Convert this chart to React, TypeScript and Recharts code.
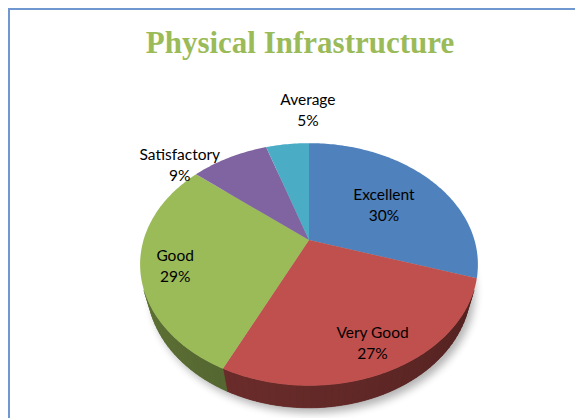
import { Pie, PieChart } from "recharts"

// values
const categories = ["Excellent", "Very Good", "Good", "Satisfactory", "Average"]
const shares = [30, 27, 29, 9, 5]

const colors = ["#4F81BD", "#C0504D", "#9BBB59", "#8064A2", "#4BACC6"]

// where each label sits: fraction of the radius along the mid angle, then a small nudge (px)
const labelRadius = [0.6, 0.82, 0.8, 1, 1]
const labelNudge = [
  [0, 4],
  [0, 0],
  [0, 5],
  [-49.5, 8],
  [20.5, -33.5],
]

const data = categories.map((name, i) => ({ name, value: shares[i] }))

// fake 3d: the disk is seen from above, a bit tilted, with some perspective
const TILT = (44.7 * Math.PI) / 180
const DIST = 3.53
const FOCAL = 584
const THICK = 0.21

const W = 573
const H = 408

function project(cx: number, cy: number, r: number, deg: number, h: number) {
  const a = (deg * Math.PI) / 180
  const x = r * Math.cos(a)
  const z = r * Math.sin(a)
  const w = DIST - h * Math.sin(TILT) + z * Math.cos(TILT)
  const up = h * Math.cos(TILT) + z * Math.sin(TILT)
  return [cx + (FOCAL * x) / w, cy - (FOCAL * up) / w]
}

function arc(cx: number, cy: number, from: number, to: number, h: number) {
  const n = Math.max(2, Math.ceil(Math.abs(to - from)))
  const pts: number[][] = []
  for (let k = 0; k <= n; k++) pts.push(project(cx, cy, 1, from + ((to - from) * k) / n, h))
  return pts
}

const toPath = (pts: number[][]) =>
  "M" + pts.map((p) => p[0].toFixed(2) + "," + p[1].toFixed(2)).join("L") + "Z"

function shade(hex: string, k: number) {
  const n = parseInt(hex.slice(1), 16)
  const r = Math.round(((n >> 16) & 255) * k)
  const g = Math.round(((n >> 8) & 255) * k)
  const b = Math.round((n & 255) * k)
  return `rgb(${r},${g},${b})`
}

// the side is only visible on the front, where it faces the camera
const SIDE_LIMIT = (Math.asin(1 / (DIST * Math.cos(TILT))) * 180) / Math.PI

const renderWall = (p: any) => {
  const { cx, cy, startAngle, endAngle, index } = p
  const hi = Math.min(startAngle, -SIDE_LIMIT)
  const lo = Math.max(endAngle, -180 + SIDE_LIMIT)
  const color = colors[index]
  const parts = []
  if (hi > lo) {
    const top = arc(cx, cy, hi, lo, 0)
    const bottom = arc(cx, cy, lo, hi, -THICK)
    parts.push(<path key="base" d={toPath([...top, ...bottom])} fill={shade(color, 0.5)} />)
    const step = 2
    for (let a = hi; a > lo; a -= step) {
      const b = Math.max(lo, a - step)
      const m = (a + b) / 2
      const k = 0.4 + 0.24 * (-m / 180)
      const c = shade(color, k)
      const quad = [project(cx, cy, 1, a, 0), project(cx, cy, 1, b, 0), project(cx, cy, 1, b, -THICK), project(cx, cy, 1, a, -THICK)]
      parts.push(<path key={a} d={toPath(quad)} fill={c} stroke={c} strokeWidth={0.6} />)
    }
  }
  return (
    <g key={`wall-${index}`}>
      {index === 0 && (
        <g>
          <defs>
            <filter id="pieShadow" x="-20%" y="-20%" width="140%" height="140%">
              <feGaussianBlur stdDeviation="4" />
            </filter>
          </defs>
          <path
            d={toPath(arc(cx + 4, cy + 5, 90, -270, -THICK))}
            fill="#000"
            opacity={0.3}
            filter="url(#pieShadow)"
          />
        </g>
      )}
      {parts}
    </g>
  )
}

const renderFace = (p: any) => {
  const { cx, cy, startAngle, endAngle, index } = p
  const pts = [project(cx, cy, 0, 0, 0), ...arc(cx, cy, startAngle, endAngle, 0)]
  return <path key={`face-${index}`} d={toPath(pts)} fill={colors[index]} />
}

const renderText = (p: any) => {
  const { cx, cy, midAngle, index, name, percent } = p
  const [x0, y0] = project(cx, cy, labelRadius[index], midAngle, 0)
  const x = x0 + labelNudge[index][0]
  const y = y0 + labelNudge[index][1]
  return (
    <text key={`text-${index}`} x={x} y={y} textAnchor="middle" fill="#000" fontSize={15.5} fontFamily="Lato, 'Open Sans', sans-serif">
      <tspan x={x} y={y - 5.5}>
        {name}
      </tspan>
      <tspan x={x} y={y + 15.5}>
        {Math.round(percent * 100)}%
      </tspan>
    </text>
  )
}

export default function App() {
  const cx = 299
  const cy = 230
  const common = {
    data,
    dataKey: "value",
    nameKey: "name",
    cx,
    cy,
    outerRadius: 100,
    startAngle: 90,
    endAngle: -270,
    fill: "none",
    stroke: "none",
    labelLine: false,
    isAnimationActive: false,
  }
  return (
    <div
      style={{
        position: "relative",
        width: W + 2,
        height: H + 2,
        boxSizing: "border-box",
        borderTop: "2px solid #7097d0",
        borderLeft: "2px solid #7097d0",
      }}
    >
      <div
        style={{
          position: "absolute",
          left: 0,
          top: 17,
          width: 580,
          textAlign: "center",
          fontFamily: "'Liberation Serif', 'Times New Roman', serif",
          fontWeight: "bold",
          fontSize: 31,
          lineHeight: "31px",
          color: "#9BBB59",
        }}
      >
        Physical Infrastructure
      </div>
      <PieChart width={W} height={H} margin={{ top: 0, right: 0, bottom: 0, left: 0 }}>
        <Pie {...common} label={renderWall} />
        <Pie {...common} label={renderFace} />
        <Pie {...common} label={renderText} />
      </PieChart>
    </div>
  )
}
